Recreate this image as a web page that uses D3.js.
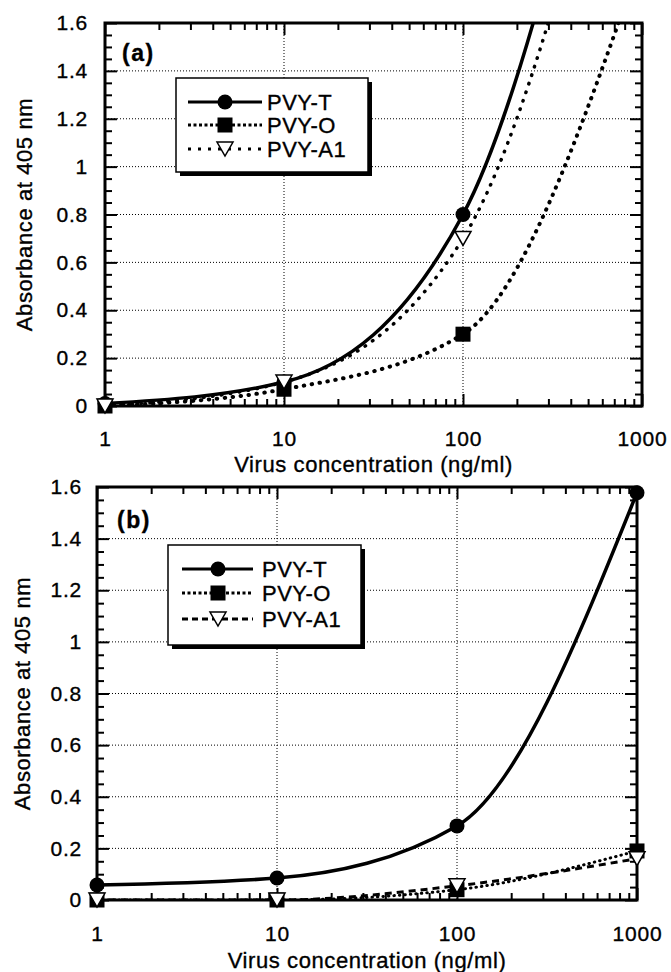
<!DOCTYPE html>
<html>
<head>
<meta charset="utf-8">
<script src="https://cdn.jsdelivr.net/npm/d3@7"></script>
<style>
  body { margin: 0; background: #fff; }
  text { font-family: "Liberation Sans", Arial, sans-serif; fill: #000; stroke: #000; stroke-width: 0.35px; }
</style>
</head>
<body>
<script>
// Concentrations (ng/ml) and series names
var conc = [1, 10, 100, 1000];
var seriesNames = ["PVY-T", "PVY-O", "PVY-A1"];
var xTickLabels = ["1", "10", "100", "1000"];
var yTicks = [0, 0.2, 0.4, 0.6, 0.8, 1, 1.2, 1.4, 1.6];

var a_T  = [0.01, 0.10, 0.80, 3.45];
var a_O  = [0.00, 0.07, 0.30, 1.88];
var a_A1 = [0.00, 0.10, 0.70, 3.05];

// Panel (b) absorbance values
var b_T  = [0.058, 0.085, 0.287, 1.578];
var b_O  = [0.00, 0.00, 0.04, 0.19];
var b_A1 = [0.00, 0.00, 0.055, 0.16];

var w = 671, h = 972;

var svg = d3.select("body")
    .append("svg")
    .attr("width", w)
    .attr("height", h);

svg.append("rect").attr("width", w).attr("height", h).attr("fill", "#fff");

function drawPanel(p) {
    var x = d3.scaleLog().domain([1, 1000]).range([p.left, p.right]);
    var y = d3.scaleLinear().domain([0, 1.6]).range([p.bottom, p.top]);
    var g = svg.append("g");

    // grid lines
    g.selectAll(".hgrid")
        .data(yTicks.filter(function(d) { return d > 0 && d < 1.6; }))
        .enter().append("line")
        .attr("x1", p.left).attr("x2", p.right)
        .attr("y1", function(d) { return y(d); })
        .attr("y2", function(d) { return y(d); })
        .attr("stroke", "#000").attr("stroke-width", 1)
        .attr("stroke-dasharray", "1,2");
    g.selectAll(".vgrid")
        .data([10, 100])
        .enter().append("line")
        .attr("y1", p.top).attr("y2", p.bottom)
        .attr("x1", function(d) { return x(d); })
        .attr("x2", function(d) { return x(d); })
        .attr("stroke", "#000").attr("stroke-width", 1)
        .attr("stroke-dasharray", "1,2");

    // minor tick values
    var yMinor = d3.range(0, 33).map(function(i) { return i * 0.05; })
        .filter(function(d, i) { return i % 4 !== 0; });
    var xMinor = [];
    [1, 10, 100].forEach(function(dec) {
        for (var k = 2; k <= 9; k++) xMinor.push(k * dec);
    });

    function addAxis(axis, tx, ty) {
        var a = g.append("g")
            .attr("transform", "translate(" + tx + "," + ty + ")")
            .call(axis);
        a.select(".domain").remove();
        a.selectAll("line").attr("stroke-width", 2);
        a.selectAll("text")
            .style("font-size", "21px")
            .style("letter-spacing", "0.8px");
        return a;
    }

    // major + minor ticks, all pointing inward
    addAxis(d3.axisLeft(y).tickValues(yTicks).tickSize(-12).tickSizeOuter(0)
        .tickPadding(p.yPad).tickFormat(function(d) { return String(+d.toFixed(1)); }),
        p.left, 0);
    addAxis(d3.axisLeft(y).tickValues(yMinor).tickSize(-7).tickSizeOuter(0).tickFormat(""), p.left, 0);
    addAxis(d3.axisRight(y).tickValues(yTicks).tickSize(-12).tickSizeOuter(0).tickFormat(""), p.right, 0);
    addAxis(d3.axisRight(y).tickValues(yMinor).tickSize(-7).tickSizeOuter(0).tickFormat(""), p.right, 0);
    addAxis(d3.axisBottom(x).tickValues(conc).tickSize(-12).tickSizeOuter(0)
        .tickPadding(p.xPad).tickFormat(function(d, i) { return xTickLabels[i]; }),
        0, p.bottom);
    addAxis(d3.axisBottom(x).tickValues(xMinor).tickSize(-7).tickSizeOuter(0).tickFormat(""), 0, p.bottom);
    addAxis(d3.axisTop(x).tickValues(conc).tickSize(-12).tickSizeOuter(0).tickFormat(""), 0, p.top);
    addAxis(d3.axisTop(x).tickValues(xMinor).tickSize(-7).tickSizeOuter(0).tickFormat(""), 0, p.top);

    // frame
    g.append("rect")
        .attr("x", p.left).attr("y", p.top)
        .attr("width", p.right - p.left).attr("height", p.bottom - p.top)
        .attr("fill", "none").attr("stroke", "#000").attr("stroke-width", 3);

    // clip for curves
    var clipId = "clip-" + p.name;
    svg.append("clipPath").attr("id", clipId)
        .append("rect")
        .attr("x", p.left).attr("y", p.top)
        .attr("width", p.right - p.left).attr("height", p.bottom - p.top);

    var line = d3.line()
        .x(function(d) { return x(d[0]); })
        .y(function(d) { return y(d[1]); })
        .curve(d3.curveMonotoneX);

    var series = p.series.map(function(vals) {
        return conc.map(function(c, i) { return [c, vals[i]]; });
    });

    series.forEach(function(pts, i) {
        var st = p.lineStyles[i];
        g.append("path")
            .datum(pts)
            .attr("clip-path", "url(#" + clipId + ")")
            .attr("fill", "none")
            .attr("stroke", "#000")
            .attr("stroke-width", st.width)
            .attr("stroke-dasharray", st.dash)
            .attr("stroke-linecap", st.cap)
            .attr("d", line);
    });

    // markers (only those inside the y range)
    series.forEach(function(pts, i) {
        var visible = pts.filter(function(d) { return d[1] <= 1.6; });
        drawMarkers(g, visible.map(function(d) { return [x(d[0]), y(d[1])]; }), i);
    });

    // legend
    var L = p.legend;
    g.append("rect")
        .attr("x", L.x + 4).attr("y", L.y + 4)
        .attr("width", L.w).attr("height", L.h)
        .attr("fill", "#000");
    g.append("rect")
        .attr("x", L.x).attr("y", L.y)
        .attr("width", L.w).attr("height", L.h)
        .attr("fill", "#fff").attr("stroke", "#000").attr("stroke-width", 1.5);

    seriesNames.forEach(function(name, i) {
        var ly = L.rows[i];
        var st = p.legendStyles[i];
        g.append("line")
            .attr("x1", L.x1).attr("x2", L.x2)
            .attr("y1", ly).attr("y2", ly)
            .attr("stroke", "#000")
            .attr("stroke-width", st.width)
            .attr("stroke-dasharray", st.dash);
        drawMarkers(g, [[L.mx, ly]], i);
        g.append("text")
            .attr("x", L.tx).attr("y", ly)
            .attr("dy", "0.36em")
            .style("font-size", "22px")
            .style("letter-spacing", "0.5px")
            .text(name);
    });

    // panel label
    g.append("text")
        .attr("x", p.labelX).attr("y", p.labelY)
        .style("font-size", "23px")
        .style("font-weight", "bold")
        .style("letter-spacing", "1.5px")
        .text(p.label);

    // axis titles
    g.append("text")
        .attr("transform", "translate(" + p.yTitleX + "," + ((p.top + p.bottom) / 2) + ") rotate(-90)")
        .attr("text-anchor", "middle")
        .attr("dy", "0.36em")
        .style("font-size", "22px")
        .style("letter-spacing", "0.6px")
        .text("Absorbance at 405 nm");
    g.append("text")
        .attr("x", (p.left + p.right) / 2).attr("y", p.xTitleY)
        .attr("text-anchor", "middle")
        .style("font-size", "22px")
        .style("letter-spacing", "0.6px")
        .text("Virus concentration  (ng/ml)");
}

function drawMarkers(g, pts, i) {
    if (i === 0) {
        g.selectAll(null).data(pts).enter().append("circle")
            .attr("cx", function(d) { return d[0]; })
            .attr("cy", function(d) { return d[1]; })
            .attr("r", 7.5).attr("fill", "#000");
    } else if (i === 1) {
        g.selectAll(null).data(pts).enter().append("rect")
            .attr("x", function(d) { return d[0] - 7.5; })
            .attr("y", function(d) { return d[1] - 7.5; })
            .attr("width", 15).attr("height", 15).attr("fill", "#000");
    } else {
        g.selectAll(null).data(pts).enter().append("path")
            .attr("d", function(d) {
                return "M" + (d[0] - 8) + "," + (d[1] - 7) +
                       "L" + (d[0] + 8) + "," + (d[1] - 7) +
                       "L" + d[0] + "," + (d[1] + 7) + "Z";
            })
            .attr("fill", "#fff").attr("stroke", "#000").attr("stroke-width", 1.5);
    }
}

drawPanel({
    name: "a", label: "(a)", labelX: 122, labelY: 61,
    left: 105, right: 642, top: 23, bottom: 406,
    yPad: 17, xPad: 25, yTitleX: 24, xTitleY: 472,
    series: [a_T, a_O, a_A1],
    lineStyles: [
        { width: 3.5, dash: null, cap: "butt" },
        { width: 4, dash: "0.5,7.5", cap: "round" },
        { width: 3.5, dash: "0.5,8.5", cap: "round" }
    ],
    legendStyles: [
        { width: 3, dash: null },
        { width: 3, dash: "3,2.5" },
        { width: 3, dash: "3,7" }
    ],
    legend: { x: 176, y: 78, w: 192, h: 94, rows: [102, 125, 149],
              x1: 188, x2: 262, mx: 225, tx: 267 }
});

drawPanel({
    name: "b", label: "(b)", labelX: 117, labelY: 528,
    left: 97, right: 637, top: 487, bottom: 900,
    yPad: 15, xPad: 26, yTitleX: 22, xTitleY: 968,
    series: [b_T, b_O, b_A1],
    lineStyles: [
        { width: 3.5, dash: null, cap: "butt" },
        { width: 3, dash: "0.5,5", cap: "round" },
        { width: 3, dash: "7,5", cap: "butt" }
    ],
    legendStyles: [
        { width: 3, dash: null },
        { width: 3, dash: "3,2.5" },
        { width: 3, dash: "6,4" }
    ],
    legend: { x: 168, y: 545, w: 193, h: 100, rows: [569, 593, 619],
              x1: 182, x2: 253, mx: 218, tx: 262 }
});
</script>
</body>
</html>
